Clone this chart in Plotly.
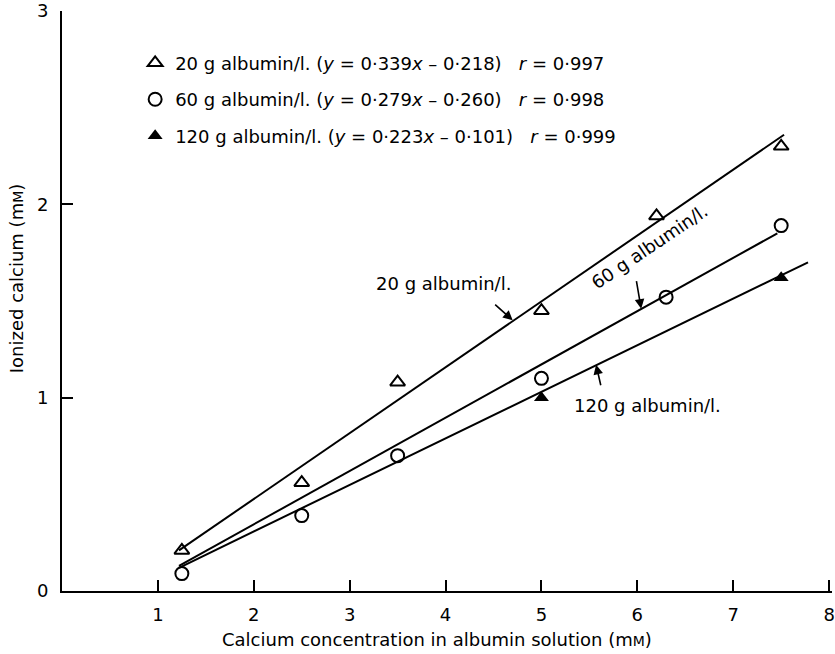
import plotly.graph_objects as go

# ---- data ----
x_20 = [1.25, 2.5, 3.5, 5.0, 6.2, 7.5]
y_20 = [0.21, 0.56, 1.08, 1.45, 1.94, 2.30]

x_60 = [1.25, 2.5, 3.5, 5.0, 6.3, 7.5]
y_60 = [0.09, 0.39, 0.70, 1.10, 1.52, 1.89]

x_120 = [5.0, 7.5]
y_120 = [1.00, 1.62]

# fitted lines (end points as drawn)
fit20_x = [1.22, 7.53]
fit20_y = [0.21, 2.36]
fit60_x = [1.22, 7.46]
fit60_y = [0.13, 1.85]
fit120_x = [1.22, 7.78]
fit120_y = [0.12, 1.70]

x_ticks = [1, 2, 3, 4, 5, 6, 7, 8]
y_ticks = [0, 1, 2, 3]

names = [
    "20 g albumin/l. (<i>y</i> = 0·339<i>x</i> – 0·218)\u00a0\u00a0\u00a0<i>r</i> = 0·997",
    "60 g albumin/l. (<i>y</i> = 0·279<i>x</i> – 0·260)\u00a0\u00a0\u00a0<i>r</i> = 0·998",
    "120 g albumin/l. (<i>y</i> = 0·223<i>x</i> – 0·101)\u00a0\u00a0\u00a0<i>r</i> = 0·999",
]

FONT = "DejaVu Sans, Arial, sans-serif"
FS = 18

fig = go.Figure()

for fx, fy in [(fit20_x, fit20_y), (fit60_x, fit60_y), (fit120_x, fit120_y)]:
    fig.add_trace(go.Scatter(x=fx, y=fy, mode="lines",
                             line=dict(color="black", width=2),
                             showlegend=False, hoverinfo="skip"))

fig.add_trace(go.Scatter(x=x_20, y=y_20, mode="markers", name=names[0], legendgroup="a",
                         marker=dict(symbol="triangle-up-open", size=13, color="black",
                                     line=dict(width=2, color="black"))))
fig.add_trace(go.Scatter(x=x_60, y=y_60, mode="markers", name=names[1], legendgroup="b",
                         marker=dict(symbol="circle-open", size=13, color="black",
                                     line=dict(width=2, color="black"))))
fig.add_trace(go.Scatter(x=x_120, y=y_120, mode="markers", name=names[2], legendgroup="c",
                         marker=dict(symbol="triangle-up", size=13, color="black",
                                     line=dict(width=0, color="black"))))

ann = []
# labels
ann.append(dict(x=3.98, y=1.59, xref="x", yref="y", text="20 g albumin/l.", showarrow=False,
                font=dict(size=FS, family=FONT, color="black")))
ann.append(dict(x=6.13, y=1.78, xref="x", yref="y", text="60 g albumin/l.", showarrow=False,
                textangle=-34, font=dict(size=FS, family=FONT, color="black")))
ann.append(dict(x=6.11, y=0.96, xref="x", yref="y", text="120 g albumin/l.", showarrow=False,
                font=dict(size=FS, family=FONT, color="black")))
# arrows
for tx, ty, ax, ay in [(4.70, 1.40, -19, -17), (6.04, 1.46, -5, -29), (5.57, 1.17, 5, 22)]:
    ann.append(dict(x=tx, y=ty, xref="x", yref="y", text="", showarrow=True,
                    ax=ax, ay=ay, axref="pixel", ayref="pixel",
                    arrowhead=2, arrowsize=1.2, arrowwidth=1.6, arrowcolor="black",
                    standoff=0, startstandoff=0))
# axis titles
ann.append(dict(x=0.4864, y=-0.0842, xref="paper", yref="paper", xanchor="center", yanchor="middle",
                text="Calcium concentration in albumin solution (m<span style='font-size:14px'>M</span>)",
                showarrow=False, font=dict(size=FS, family=FONT, color="black")))
ann.append(dict(x=-0.0595, y=0.5395, xref="paper", yref="paper", textangle=-90,
                xanchor="center", yanchor="middle",
                text="Ionized calcium (m<span style='font-size:14px'>M</span>)",
                showarrow=False, font=dict(size=FS, family=FONT, color="black")))

fig.update_layout(
    width=835, height=654,
    margin=dict(l=62, r=0, t=9, b=63),
    paper_bgcolor="white", plot_bgcolor="white",
    font=dict(family=FONT, size=FS, color="black"),
    annotations=ann,
    showlegend=True,
    legend=dict(x=0.095, y=0.942, xanchor="left", yanchor="top",
                bgcolor="rgba(0,0,0,0)", borderwidth=0,
                font=dict(size=FS, family=FONT, color="black"),
                tracegroupgap=10, itemwidth=30),
    xaxis=dict(range=[0, 8.03], tickvals=x_ticks, ticktext=[str(v) for v in x_ticks],
               showgrid=False, zeroline=False, showline=True, linecolor="black", linewidth=2,
               ticks="inside", ticklen=11, tickwidth=2, tickcolor="black",
               ticklabeloverflow="allow",
               tickfont=dict(size=FS, family=FONT, color="black"), ticklabelstandoff=6),
    yaxis=dict(range=[0, 3], tickvals=y_ticks, ticktext=[str(v) for v in y_ticks],
               showgrid=False, zeroline=False, showline=True, linecolor="black", linewidth=2,
               ticks="inside", ticklen=11, tickwidth=2, tickcolor="black",
               ticklabeloverflow="allow",
               tickfont=dict(size=FS, family=FONT, color="black"), ticklabelstandoff=8),
)

fig.write_html("out.html")
